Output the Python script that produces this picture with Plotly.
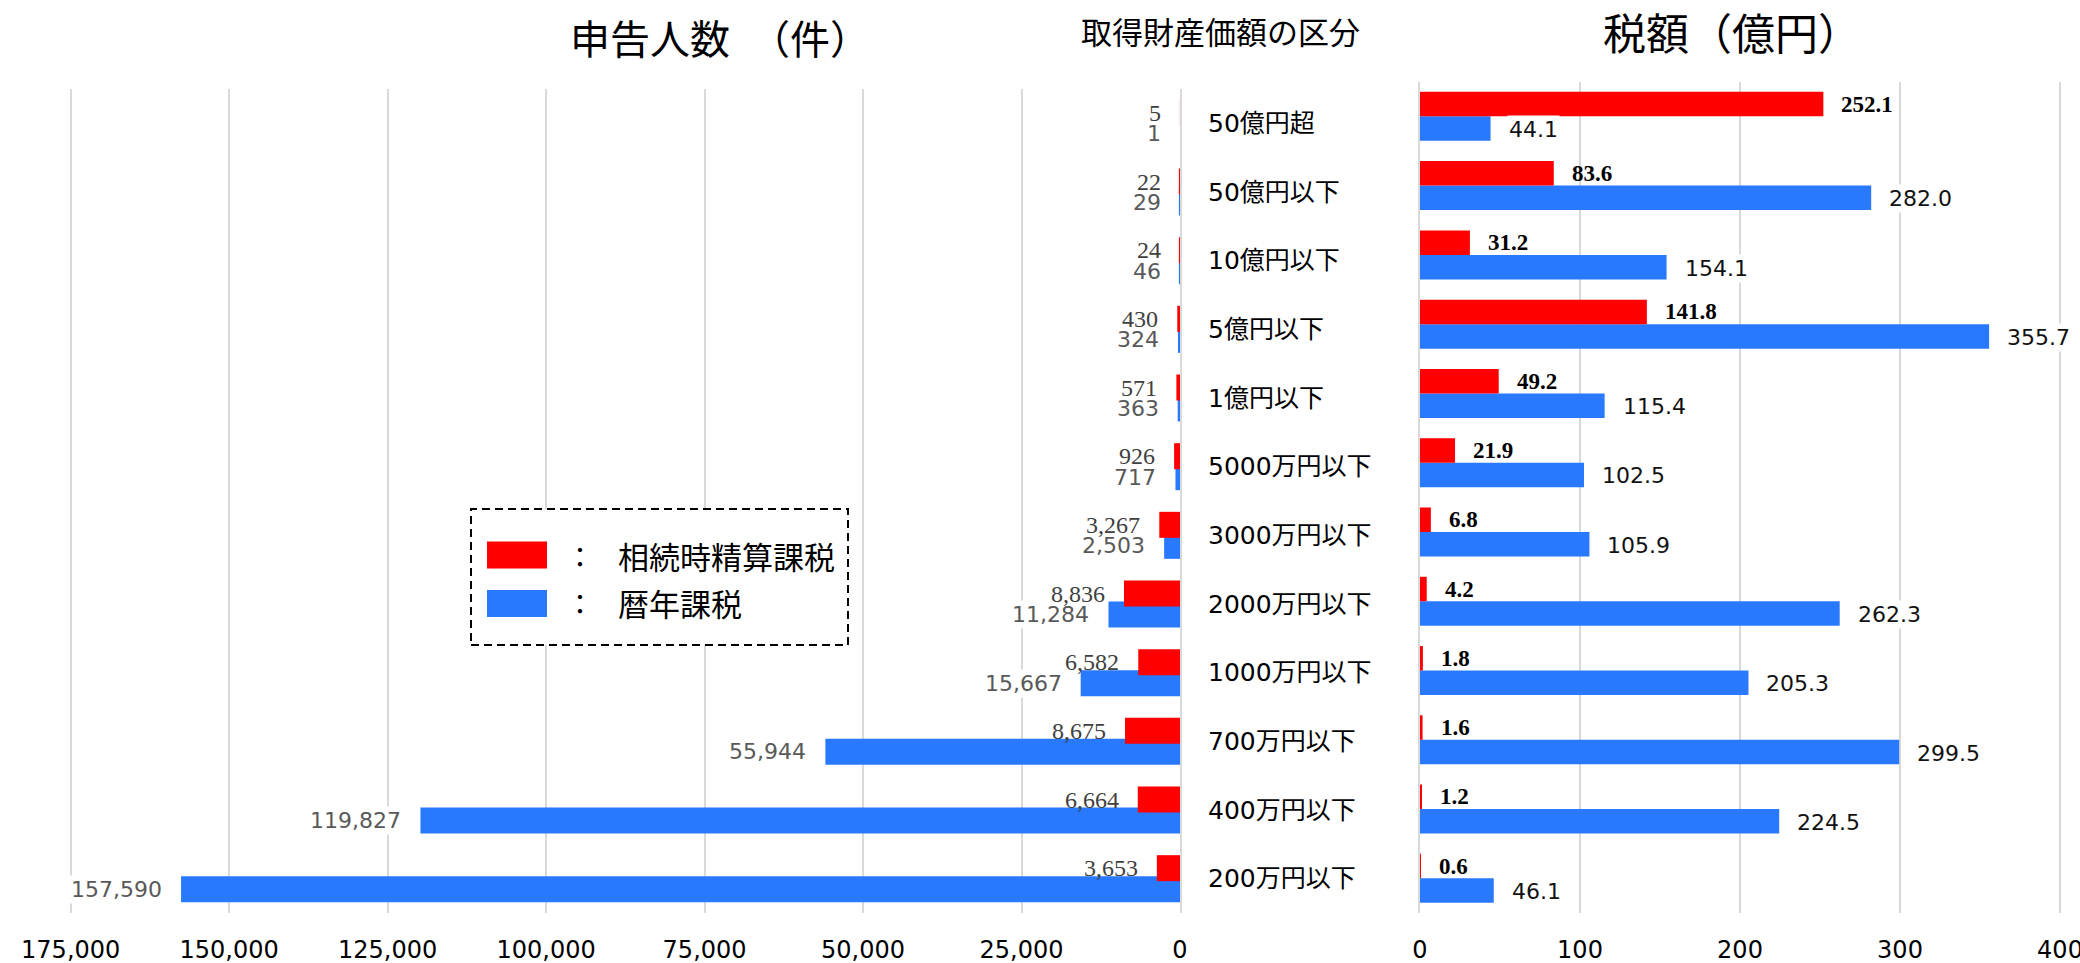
import plotly.graph_objects as go

# ---------------- data ----------------
categories = ["50億円超", "50億円以下", "10億円以下", "5億円以下", "1億円以下", "5000万円以下",
              "3000万円以下", "2000万円以下", "1000万円以下", "700万円以下", "400万円以下", "200万円以下"]
series_names = ["相続時精算課税", "暦年課税"]
count_seisan = [5, 22, 24, 430, 571, 926, 3267, 8836, 6582, 8675, 6664, 3653]
count_rekinen = [1, 29, 46, 324, 363, 717, 2503, 11284, 15667, 55944, 119827, 157590]
tax_seisan = [252.1, 83.6, 31.2, 141.8, 49.2, 21.9, 6.8, 4.2, 1.8, 1.6, 1.2, 0.6]
tax_rekinen = [44.1, 282.0, 154.1, 355.7, 115.4, 102.5, 105.9, 262.3, 205.3, 299.5, 224.5, 46.1]
count_ticks = [0, 25000, 50000, 75000, 100000, 125000, 150000, 175000]
tax_ticks = [0, 100, 200, 300, 400]
title_left = "申告人数　（件）"
title_mid = "取得財産価額の区分"
title_right = "税額（億円）"

# ---------------- style ----------------
W, H = 2080, 963
RED = "#FF0000"
BLUE = "#2979FF"
GRID = "#D9D9D9"
CJK = "Noto Sans CJK JP"
SANS = "DejaVu Sans, Noto Sans CJK JP"
SERIF = "Liberation Serif, serif"


def px_x(p):
    return p / W


def px_y(p):
    return 1 - p / H


# left panel geometry (pixels)
L_ZERO, L_MAXPX = 1180.0, 70.7
L_SCALE = (L_ZERO - L_MAXPX) / 175000.0
L_RANGE_MAX = 175600
L_LEFT = L_ZERO - L_RANGE_MAX * L_SCALE
L_TOP, L_BOT = 89.0, 913.0
L_BAND = (L_BOT - L_TOP) / len(categories)

# right panel geometry
R_ZERO = 1420.0
R_SCALE = 1.6
R_RANGE_MAX = 402
R_RIGHT = R_ZERO + R_RANGE_MAX * R_SCALE
R_TOP, R_BOT = 81.7, 913.0
R_BAND = (R_BOT - R_TOP) / len(categories)

# bar geometry in band units
l_w = 26.0 / L_BAND
l_red_off = -23.5 / L_BAND
l_blue_off = -2.5 / L_BAND
r_w = 24.5 / R_BAND

fig = go.Figure()

# left panel bars (blue under red)
fig.add_trace(go.Bar(x=count_rekinen, y=categories, orientation="h", name=series_names[1],
                     marker=dict(color=BLUE, line=dict(width=0)), offset=l_blue_off, width=l_w,
                     xaxis="x", yaxis="y", showlegend=False, hoverinfo="skip"))
fig.add_trace(go.Bar(x=count_seisan, y=categories, orientation="h", name=series_names[0],
                     marker=dict(color=RED, line=dict(width=0)), offset=l_red_off, width=l_w,
                     xaxis="x", yaxis="y", showlegend=False, hoverinfo="skip"))
# right panel bars
fig.add_trace(go.Bar(x=tax_rekinen, y=categories, orientation="h", name=series_names[1],
                     marker=dict(color=BLUE, line=dict(width=0)), offset=0, width=r_w,
                     xaxis="x2", yaxis="y2", showlegend=False, hoverinfo="skip"))
fig.add_trace(go.Bar(x=tax_seisan, y=categories, orientation="h", name=series_names[0],
                     marker=dict(color=RED, line=dict(width=0)), offset=-r_w, width=r_w,
                     xaxis="x2", yaxis="y2", showlegend=False, hoverinfo="skip"))

annotations = []
# left labels (blue first so red text is drawn above)
l_red_c = (l_red_off + l_w / 2) * L_BAND
l_blue_c = (l_blue_off + l_w / 2) * L_BAND
for c, v in zip(categories, count_rekinen):
    annotations.append(dict(x=v, y=c, xref="x", yref="y", text=f"{v:,}", showarrow=False,
                            xanchor="right", yanchor="middle", xshift=-17, yshift=-l_blue_c,
                            font=dict(family=SANS, size=22, color="#595959"),
                            bgcolor="white", borderpad=1))
for c, v in zip(categories, count_seisan):
    annotations.append(dict(x=v, y=c, xref="x", yref="y", text=f"{v:,}", showarrow=False,
                            xanchor="right", yanchor="middle", xshift=-17, yshift=-l_red_c,
                            font=dict(family=SERIF, size=24, color="#404040")))
# right labels
r_red_c = -r_w / 2 * R_BAND
r_blue_c = r_w / 2 * R_BAND
for c, v in zip(categories, tax_rekinen):
    annotations.append(dict(x=v, y=c, xref="x2", yref="y2", text=f"{v:.1f}", showarrow=False,
                            xanchor="left", yanchor="middle", xshift=16, yshift=-r_blue_c - 1,
                            font=dict(family=SANS, size=22, color="#111111"),
                            bgcolor="white", borderpad=1))
for c, v in zip(categories, tax_seisan):
    annotations.append(dict(x=v, y=c, xref="x2", yref="y2", text=f"<b>{v:.1f}</b>", showarrow=False,
                            xanchor="left", yanchor="middle", xshift=16, yshift=-r_red_c,
                            font=dict(family=SERIF, size=23, color="#000000")))

# titles
annotations.append(dict(x=px_x(720), y=px_y(37), xref="paper", yref="paper", text=title_left,
                        showarrow=False, xanchor="center", yanchor="middle",
                        font=dict(family=CJK, size=40, color="black")))
annotations.append(dict(x=px_x(1220), y=px_y(30), xref="paper", yref="paper", text=title_mid,
                        showarrow=False, xanchor="center", yanchor="middle",
                        font=dict(family=CJK, size=31, color="black")))
annotations.append(dict(x=px_x(1732), y=px_y(31), xref="paper", yref="paper", text=title_right,
                        showarrow=False, xanchor="center", yanchor="middle",
                        font=dict(family=CJK, size=43, color="black")))

# legend (drawn box)
shapes = [
    dict(type="rect", xref="paper", yref="paper", x0=px_x(471), x1=px_x(848), y0=px_y(645), y1=px_y(509),
         line=dict(color="black", width=2, dash="8px,5px"), fillcolor="white", layer="above"),
    dict(type="rect", xref="paper", yref="paper", x0=px_x(487), x1=px_x(547), y0=px_y(568.5), y1=px_y(541.5),
         line=dict(width=0), fillcolor=RED, layer="above"),
    dict(type="rect", xref="paper", yref="paper", x0=px_x(487), x1=px_x(547), y0=px_y(617), y1=px_y(590),
         line=dict(width=0), fillcolor=BLUE, layer="above"),
]
for name, yc in zip(series_names, [555.7, 602.8]):
    annotations.append(dict(x=px_x(580), y=px_y(yc), xref="paper", yref="paper", text="：",
                            showarrow=False, xanchor="center", yanchor="middle",
                            font=dict(family=CJK, size=28, color="black")))
    annotations.append(dict(x=px_x(616), y=px_y(yc), xref="paper", yref="paper", text=name,
                            showarrow=False, xanchor="left", yanchor="middle",
                            font=dict(family=CJK, size=31, color="black")))

fig.update_layout(
    width=W, height=H, margin=dict(l=0, r=0, t=0, b=0, autoexpand=False),
    paper_bgcolor="white", plot_bgcolor="white",
    barmode="overlay", showlegend=False,
    annotations=annotations, shapes=shapes,
    xaxis=dict(domain=[px_x(L_LEFT), px_x(L_ZERO)], range=[L_RANGE_MAX, 0], anchor="y",
               automargin=False, ticklabeloverflow="allow",
               tickvals=count_ticks, tickformat=",d", showgrid=True, gridcolor=GRID, gridwidth=2,
               zeroline=False, showline=False, ticks="outside", ticklen=15,
               tickcolor="rgba(0,0,0,0)", tickfont=dict(family=SANS, size=24, color="black")),
    yaxis=dict(domain=[px_y(L_BOT), px_y(L_TOP)], anchor="x", side="right", type="category",
               automargin=False,
               categoryorder="array", categoryarray=categories, autorange="reversed",
               showgrid=False, zeroline=False, showline=True, linecolor=GRID, linewidth=2,
               ticks="outside", ticklen=21, tickcolor="rgba(0,0,0,0)",
               tickfont=dict(family=SANS, size=25, color="black")),
    xaxis2=dict(domain=[px_x(R_ZERO), px_x(R_RIGHT)], range=[0, R_RANGE_MAX], anchor="y2",
                automargin=False, ticklabeloverflow="allow",
                tickvals=tax_ticks, showgrid=True, gridcolor=GRID, gridwidth=2,
                zeroline=False, showline=False, ticks="outside", ticklen=15,
                tickcolor="rgba(0,0,0,0)", tickfont=dict(family=SANS, size=24, color="black")),
    yaxis2=dict(domain=[px_y(R_BOT), px_y(R_TOP)], anchor="x2", type="category",
                automargin=False,
                categoryorder="array", categoryarray=categories, autorange="reversed",
                showgrid=False, zeroline=False, showline=True, linecolor=GRID, linewidth=2,
                showticklabels=False, ticks=""),
)

fig.write_html("out.html", config={"displayModeBar": False},
               post_script="document.body.style.margin='0';document.body.style.overflow='hidden';")
